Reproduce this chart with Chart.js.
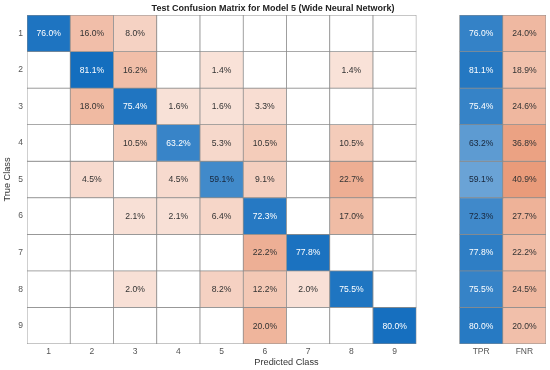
<!DOCTYPE html>
<html>
<head>
<meta charset="utf-8">
<script src="https://cdn.jsdelivr.net/npm/chart.js@4/dist/chart.umd.min.js"></script>
<style>
  html, body { margin: 0; padding: 0; background: #fff; }
  #wrap { width: 550px; height: 370px; }
</style>
</head>
<body>
<div id="wrap"><canvas id="c" width="550" height="370"></canvas></div>
<script>
// ---- data (row-normalised percentages, 0 = empty cell) ----
const classes = ['1', '2', '3', '4', '5', '6', '7', '8', '9'];
const summaryLabels = ['TPR', 'FNR'];
const row1 = [76.0, 16.0, 8.0, 0, 0, 0, 0, 0, 0];
const row2 = [0, 81.1, 16.2, 0, 1.4, 0, 0, 1.4, 0];
const row3 = [0, 18.0, 75.4, 1.6, 1.6, 3.3, 0, 0, 0];
const row4 = [0, 0, 10.5, 63.2, 5.3, 10.5, 0, 10.5, 0];
const row5 = [0, 4.5, 0, 4.5, 59.1, 9.1, 0, 22.7, 0];
const row6 = [0, 0, 2.1, 2.1, 6.4, 72.3, 0, 17.0, 0];
const row7 = [0, 0, 0, 0, 0, 22.2, 77.8, 0, 0];
const row8 = [0, 0, 2.0, 0, 8.2, 12.2, 2.0, 75.5, 0];
const row9 = [0, 0, 0, 0, 0, 20.0, 0, 0, 80.0];
const tpr = [76.0, 81.1, 75.4, 63.2, 59.1, 72.3, 77.8, 75.5, 80.0];
const fnr = [24.0, 18.9, 24.6, 36.8, 40.9, 27.7, 22.2, 24.5, 20.0];
const rows = [row1, row2, row3, row4, row5, row6, row7, row8, row9];

// x categories: 9 predicted classes, a spacer, then TPR / FNR
const xLabels = classes.concat([''], summaryLabels);

function mix(base, t) {
  t = Math.max(0, Math.min(1, t));
  const r = Math.round(255 + (base[0] - 255) * t);
  const g = Math.round(255 + (base[1] - 255) * t);
  const b = Math.round(255 + (base[2] - 255) * t);
  return `rgb(${r},${g},${b})`;
}
const BLUE = [20, 110, 190];
const ORANGE = [217, 83, 25];

function cellInfo(r, j) {
  if (j < 9) {
    const v = rows[r][j];
    if (!v) return { v: 0, bg: '#ffffff', fg: '#333' };
    if (r === j) {
      return { v, bg: mix(BLUE, 0.3 + 0.7 * v / 81.1), fg: v >= 60 ? '#ffffff' : '#18263a' };
    }
    return { v, bg: mix(ORANGE, 0.15 + 0.0141 * v), fg: '#333333' };
  }
  if (j === 10) {
    const v = tpr[r];
    return { v, bg: mix(BLUE, v / 100 * 1.36 - 0.17), fg: v >= 74 ? '#ffffff' : '#18263a' };
  }
  if (j === 11) {
    const v = fnr[r];
    return { v, bg: mix(ORANGE, 0.17 + 0.01 * v), fg: '#333333' };
  }
  return null;
}

const datasets = rows.map((_, r) => {
  const yv = r + 1;
  const data = xLabels.map((_, j) => (j === 9 ? null : [yv - 0.5, yv + 0.5]));
  const bg = xLabels.map((_, j) => { const c = cellInfo(r, j); return c ? c.bg : 'rgba(0,0,0,0)'; });
  return {
    label: 'True ' + classes[r],
    data,
    backgroundColor: bg,
    borderColor: '#8c8c8c',
    borderWidth: 0.75,
    borderSkipped: false,
    grouped: false,
    categoryPercentage: 1,
    barPercentage: 1,
    rowIndex: r
  };
});

const cellLabels = {
  id: 'cellLabels',
  afterDatasetsDraw(chart) {
    const ctx = chart.ctx;
    ctx.save();
    ctx.font = '8.6px "Liberation Sans", Arial, sans-serif';
    ctx.textAlign = 'center';
    ctx.textBaseline = 'middle';
    chart.data.datasets.forEach((ds, di) => {
      const meta = chart.getDatasetMeta(di);
      meta.data.forEach((el, j) => {
        const info = cellInfo(ds.rowIndex, j);
        if (!info || !info.v) return;
        const p = el.getCenterPoint();
        ctx.fillStyle = info.fg;
        ctx.fillText(info.v.toFixed(1) + '%', p.x, p.y + 0.5);
      });
    });
    ctx.restore();
  }
};

const FONT = '"Liberation Sans", Arial, sans-serif';

new Chart(document.getElementById('c'), {
  type: 'bar',
  data: { labels: xLabels, datasets },
  options: {
    responsive: false,
    animation: false,
    devicePixelRatio: 1,
    layout: { padding: { left: 0, right: 4, top: 0, bottom: 0 } },
    plugins: {
      legend: { display: false },
      tooltip: { enabled: false },
      title: {
        display: true,
        text: 'Test Confusion Matrix for Model 5 (Wide Neural Network)',
        color: '#222',
        font: { family: FONT, size: 9, weight: 'bold', lineHeight: 1.2 },
        padding: { top: 3, bottom: 1.2 }
      }
    },
    scales: {
      x: {
        type: 'category',
        offset: true,
        grid: { display: false, drawTicks: false },
        border: { display: false },
        ticks: {
          color: '#555',
          padding: 3,
          maxRotation: 0,
          autoSkip: false,
          font: { family: FONT, size: 8.5 }
        },
        title: {
          display: true,
          text: 'Predicted Class',
          color: '#333',
          padding: { top: 0, bottom: 2 },
          font: { family: FONT, size: 9.2, lineHeight: 1.2 }
        },
        afterFit(scale) { scale.height = 26; }
      },
      y: {
        type: 'linear',
        reverse: true,
        min: 0.5,
        max: 9.5,
        grid: { display: false, drawTicks: false },
        border: { display: false },
        afterBuildTicks(scale) { scale.ticks = classes.map((c, i) => ({ value: i + 1 })); },
        ticks: {
          color: '#555',
          padding: 4,
          font: { family: FONT, size: 8.5 },
          callback: (v) => classes[Math.round(v) - 1]
        },
        title: {
          display: true,
          text: 'True Class',
          color: '#333',
          padding: { top: 2, bottom: 0 },
          font: { family: FONT, size: 9.2, lineHeight: 1.2 }
        },
        afterFit(scale) { scale.width = 27; }
      }
    }
  },
  plugins: [cellLabels]
});
</script>
</body>
</html>
